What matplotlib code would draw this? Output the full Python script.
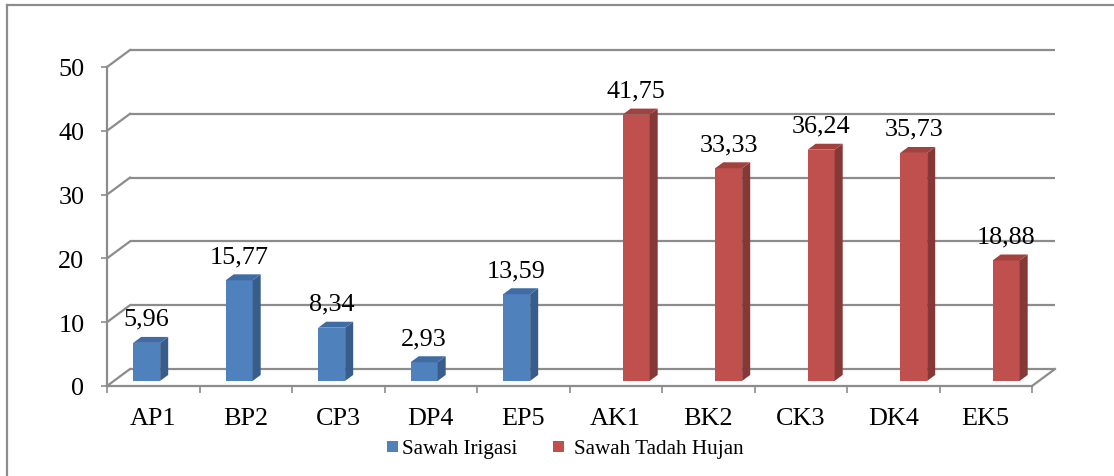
import matplotlib
matplotlib.use("Agg")
import matplotlib.pyplot as plt
from matplotlib.patches import Rectangle, Polygon
from matplotlib.lines import Line2D

# ---- data ----
categories = ["AP1", "BP2", "CP3", "DP4", "EP5", "AK1", "BK2", "CK3", "DK4", "EK5"]
irigasi = [5.96, 15.77, 8.34, 2.93, 13.59]          # Sawah Irigasi (AP1..EP5)
tadah_hujan = [41.75, 33.33, 36.24, 35.73, 18.88]   # Sawah Tadah Hujan (AK1..EK5)
series_names = ["Sawah Irigasi", "Sawah Tadah Hujan"]
y_ticks = [0, 10, 20, 30, 40, 50]

# ---- style ----
plt.rcParams['font.family'] = ['Liberation Serif', 'DejaVu Serif']
W_PX, H_PX = 1114, 477
GRID = '#8c8c8c'
BLUE = ('#4F81BD', '#385D8A', '#3F6CA3')   # front, side, top
RED = ('#C0504D', '#863836', '#A2423F')
FS = 18.8

fig = plt.figure(figsize=(W_PX / 100, H_PX / 100), dpi=100)
# front plane of the 3-D box
ax = fig.add_axes([107 / W_PX, (H_PX - 387) / H_PX, 925 / W_PX, 319 / H_PX])
ax.set_xlim(0, len(categories))
ax.set_ylim(0, 50)
for s in ax.spines.values():
    s.set_visible(False)

px_x = 925 / len(categories)
px_y = 319 / 50
DX = 23 / px_x          # depth offset of box (data units)
DY = 17 / px_y
F0, F1 = 0.30, 0.65     # bar depth range (fraction of box depth)
BW = 27 / px_x          # bar width
LW = 1.6

# back wall gridlines and left wall diagonals
n = len(categories)
for v in y_ticks:
    ax.plot([DX, n + DX], [v + DY, v + DY], color=GRID, lw=LW, clip_on=False, zorder=1,
            solid_capstyle='butt')
    ax.plot([0, DX], [v, v + DY], color=GRID, lw=LW, clip_on=False, zorder=1)
# floor right edge
ax.plot([n, n + DX], [0, DY], color=GRID, lw=LW, clip_on=False, zorder=1)
# front axes
ax.plot([0, 0], [0, 50], color=GRID, lw=LW, clip_on=False, zorder=1)
ax.plot([0, n], [0, 0], color=GRID, lw=LW, clip_on=False, zorder=1)

values = irigasi + tadah_hujan
for i, v in enumerate(values):
    c = i + 0.5
    if i < len(irigasi):
        cols = BLUE
        x0 = c - BW + F0 * DX
    else:
        cols = RED
        x0 = c + F0 * DX
    y0 = F0 * DY
    ddx = (F1 - F0) * DX
    ddy = (F1 - F0) * DY
    ax.add_patch(Rectangle((x0, y0), BW, v, facecolor=cols[0], edgecolor='none',
                           zorder=3, clip_on=False))
    ax.add_patch(Polygon([(x0 + BW, y0), (x0 + BW + ddx, y0 + ddy),
                          (x0 + BW + ddx, y0 + v + ddy), (x0 + BW, y0 + v)],
                         closed=True, facecolor=cols[1], edgecolor='none', zorder=3,
                         clip_on=False))
    ax.add_patch(Polygon([(x0, y0 + v), (x0 + BW, y0 + v),
                          (x0 + BW + ddx, y0 + v + ddy), (x0 + ddx, y0 + v + ddy)],
                         closed=True, facecolor=cols[2], edgecolor='none', zorder=3,
                         clip_on=False))
    ax.annotate(f"{v:.2f}".replace('.', ','), (x0 + BW / 2, y0 + v),
                xytext=(0, 13), textcoords='offset points', ha='center',
                va='baseline', fontsize=FS, color='black', zorder=5,
                annotation_clip=False)

# ticks
ax.set_yticks(y_ticks)
ax.set_yticklabels([str(t) for t in y_ticks])
ax.tick_params(axis='y', length=4.3, width=1.2, color=GRID, pad=12, labelsize=FS)
ax.set_xticks(range(n + 1))
ax.set_xticklabels([''] * (n + 1))
ax.set_xticks([i + 0.5 for i in range(n)], minor=True)
ax.set_xticklabels(categories, minor=True)
ax.tick_params(axis='x', which='major', length=5, width=1.2, color=GRID, direction='out')
ax.tick_params(axis='x', which='minor', length=0, pad=15, labelsize=FS)

# legend (manual)
legend_items = [(series_names[0], BLUE[0], 387, 402), (series_names[1], RED[0], 553, 574)]
for name, col, sx, tx in legend_items:
    fig.add_artist(Rectangle((sx / W_PX, 1 - 453 / H_PX), 11 / W_PX, 11 / H_PX,
                             transform=fig.transFigure, facecolor=col, edgecolor='none'))
    fig.text(tx / W_PX, 1 - 454 / H_PX, name, fontsize=15.2, va='baseline', ha='left')

# chart frame (left and top)
fig.add_artist(Line2D([6.5 / W_PX, 6.5 / W_PX], [0, 1 - 5.5 / H_PX],
                      transform=fig.transFigure, color=GRID, lw=1.6))
fig.add_artist(Line2D([6.5 / W_PX, 1], [1 - 5.5 / H_PX, 1 - 5.5 / H_PX],
                      transform=fig.transFigure, color=GRID, lw=1.6))

fig.savefig("out.png", dpi=100, facecolor='white')
